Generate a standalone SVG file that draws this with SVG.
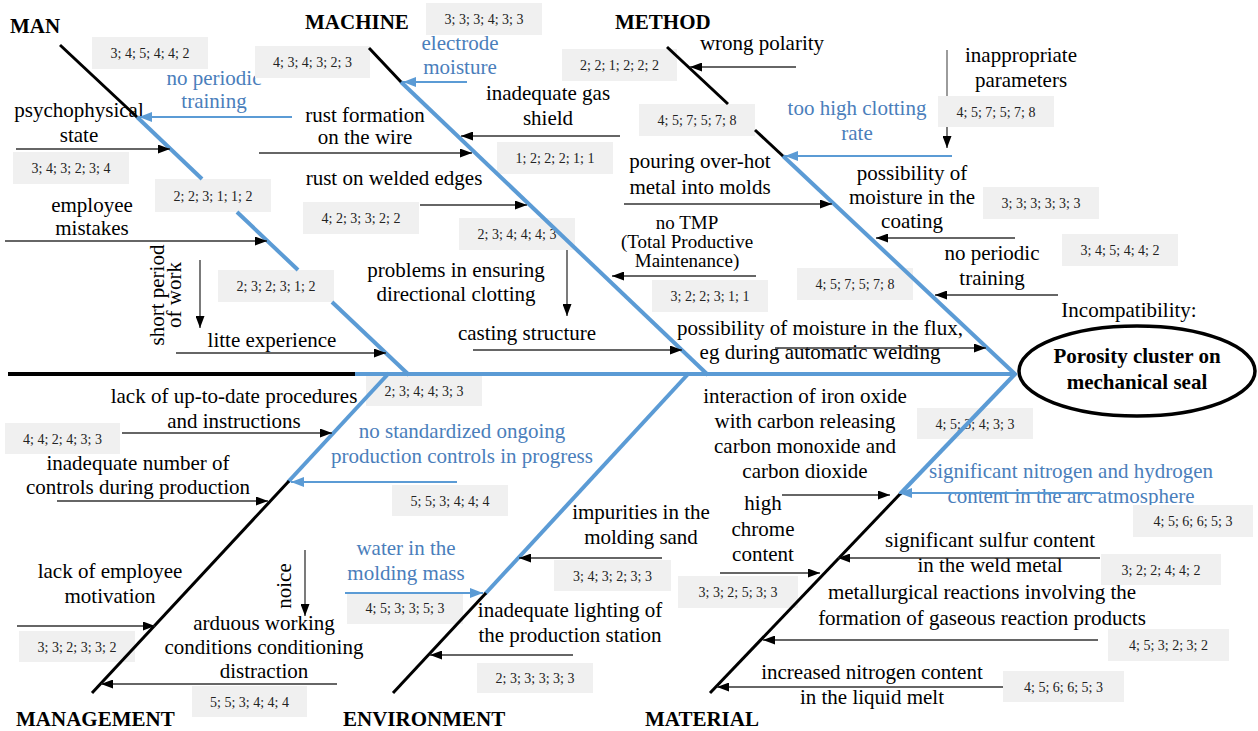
<svg xmlns="http://www.w3.org/2000/svg" width="1258" height="731" viewBox="0 0 1258 731">
<style>
.t{font-family:"Liberation Serif","Times New Roman",serif;font-size:21px;fill:#000;text-anchor:middle}
.bl{fill:#4a7ebb}
.cat{font-weight:bold;text-anchor:start}
.hd{font-weight:bold}
.sm{font-size:19px}
.n{font-family:"Liberation Serif","Times New Roman",serif;font-size:14px;fill:#222;text-anchor:middle}
.box{fill:#f0f0f0}
.bk{stroke:#000;stroke-width:3;fill:none}
.bb{stroke:#5b9bd5;stroke-width:4;fill:none}
.ar{stroke:#333;stroke-width:1.3;fill:none;marker-end:url(#ak)}
.arg{stroke:#666;stroke-width:1.3;fill:none}
.arb{stroke:#5b9bd5;stroke-width:2;fill:none;marker-end:url(#ab)}
</style>
<defs>
<marker id="ak" markerUnits="userSpaceOnUse" markerWidth="12" markerHeight="9" refX="12" refY="4.5" orient="auto"><path d="M0,0 L12,4.5 L0,9 z" fill="#000"/></marker>
<marker id="ab" markerUnits="userSpaceOnUse" markerWidth="13" markerHeight="10" refX="13" refY="5" orient="auto"><path d="M0,0 L13,5 L0,10 z" fill="#5b9bd5"/></marker>
</defs>
<rect width="1258" height="731" fill="#fff"/>

<g id="categories">
<text class="t cat" x="10" y="33">MAN</text>
<text class="t cat" x="305" y="29">MACHINE</text>
<text class="t cat" x="615" y="29">METHOD</text>
<text class="t cat" x="16" y="726">MANAGEMENT</text>
<text class="t cat" x="343" y="726">ENVIRONMENT</text>
<text class="t cat" x="645" y="726">MATERIAL</text>
</g>

<g id="head">
<ellipse cx="1137" cy="371" rx="118" ry="45" fill="#fff" stroke="#000" stroke-width="3.5"/>
<text class="t hd" x="1137" y="363">Porosity cluster on</text>
<text class="t hd" x="1137" y="389">mechanical seal</text>
<text class="t" x="1129" y="317">Incompatibility:</text>
</g>

<g id="causes">
<g id="c-man-training"><text class="t bl" x="214" y="85">no periodic</text><text class="t bl" x="214" y="108">training</text></g>
<g id="c-psycho"><text class="t" x="79" y="117">psychophysical</text><text class="t" x="79" y="142">state</text></g>
<g id="c-mistakes"><text class="t" x="92" y="212">employee</text><text class="t" x="92" y="235">mistakes</text></g>
<g id="c-short"><text class="t" transform="translate(164,295) rotate(-90)"><tspan x="0" y="0">short period</tspan><tspan x="0" y="17">of work</tspan></text></g>
<g id="c-experience"><text class="t" x="272" y="347">litte experience</text></g>

<g id="c-electrode"><text class="t bl" x="460" y="50">electrode</text><text class="t bl" x="460" y="74">moisture</text></g>
<g id="c-rustwire"><text class="t" x="365" y="122">rust formation</text><text class="t" x="365" y="144">on the wire</text></g>
<g id="c-gas"><text class="t" x="548" y="100">inadequate gas</text><text class="t" x="548" y="125">shield</text></g>
<g id="c-rustedges"><text class="t" x="394" y="185">rust on welded edges</text></g>
<g id="c-directional"><text class="t" x="456" y="277">problems in ensuring</text><text class="t" x="456" y="301">directional clotting</text></g>
<g id="c-casting"><text class="t" x="527" y="340">casting structure</text></g>
<g id="c-tmp"><text class="t sm" x="687" y="229">no TMP</text><text class="t sm" x="687" y="248">(Total Productive</text><text class="t sm" x="687" y="267">Maintenance)</text></g>
<g id="c-flux"><text class="t" x="820" y="335">possibility of moisture in the flux,</text><text class="t" x="820" y="359">eg during automatic welding</text></g>

<g id="c-polarity"><text class="t" x="762" y="50">wrong polarity</text></g>
<g id="c-params"><text class="t" x="1021" y="62">inappropriate</text><text class="t" x="1021" y="87">parameters</text></g>
<g id="c-rate"><text class="t bl" x="857" y="115">too high clotting</text><text class="t bl" x="857" y="140">rate</text></g>
<g id="c-pouring"><text class="t" x="700" y="168">pouring over-hot</text><text class="t" x="700" y="194">metal into molds</text></g>
<g id="c-coating"><text class="t" x="912" y="180">possibility of</text><text class="t" x="912" y="204">moisture in the</text><text class="t" x="912" y="228">coating</text></g>
<g id="c-method-training"><text class="t" x="992" y="260">no periodic</text><text class="t" x="992" y="285">training</text></g>

<g id="c-procedures"><text class="t" x="234" y="403">lack of up-to-date procedures</text><text class="t" x="234" y="428">and instructions</text></g>
<g id="c-controls"><text class="t" x="138" y="470">inadequate number of</text><text class="t" x="138" y="494">controls during production</text></g>
<g id="c-standard"><text class="t bl" x="462" y="438">no standardized ongoing</text><text class="t bl" x="462" y="463">production controls in progress</text></g>
<g id="c-motivation"><text class="t" x="110" y="578">lack of employee</text><text class="t" x="110" y="603">motivation</text></g>
<g id="c-noice"><text class="t" transform="translate(291,586) rotate(-90)">noice</text></g>
<g id="c-arduous"><text class="t" x="264" y="630">arduous working</text><text class="t" x="264" y="654">conditions conditioning</text><text class="t" x="264" y="678">distraction</text></g>

<g id="c-water"><text class="t bl" x="406" y="555">water in the</text><text class="t bl" x="406" y="580">molding mass</text></g>
<g id="c-impurities"><text class="t" x="641" y="519">impurities in the</text><text class="t" x="641" y="544">molding sand</text></g>
<g id="c-lighting"><text class="t" x="570" y="617">inadequate lighting of</text><text class="t" x="570" y="642">the production station</text></g>

<g id="c-ironoxide"><text class="t" x="805" y="403">interaction of iron oxide</text><text class="t" x="805" y="428">with carbon releasing</text><text class="t" x="805" y="453">carbon monoxide and</text><text class="t" x="805" y="478">carbon dioxide</text></g>
<g id="c-nitrogen-arc"><text class="t bl" x="1071" y="478">significant nitrogen and hydrogen</text><text class="t bl" x="1071" y="503">content in the arc atmosphere</text></g>
<g id="c-chrome"><text class="t" x="763" y="510">high</text><text class="t" x="763" y="536">chrome</text><text class="t" x="763" y="561">content</text></g>
<g id="c-sulfur"><text class="t" x="990" y="547">significant sulfur content</text><text class="t" x="990" y="572">in the weld metal</text></g>
<g id="c-metallurgical"><text class="t" x="982" y="599">metallurgical reactions involving the</text><text class="t" x="982" y="625">formation of gaseous reaction products</text></g>
<g id="c-nitrogen-melt"><text class="t" x="872" y="679">increased nitrogen content</text><text class="t" x="872" y="704">in the liquid melt</text></g>
</g>

<g id="scores">
<g id="s1"><rect class="box" x="92" y="37" width="116" height="32"/><text class="n" x="150" y="58">3; 4; 5; 4; 4; 2</text></g>
<g id="s2"><rect class="box" x="255" y="46" width="115" height="32"/><text class="n" x="312.5" y="67">4; 3; 4; 3; 2; 3</text></g>
<g id="s3"><rect class="box" x="426" y="3" width="116" height="32"/><text class="n" x="484" y="24">3; 3; 3; 4; 3; 3</text></g>
<g id="s4"><rect class="box" x="562" y="49" width="115" height="32"/><text class="n" x="619.5" y="70">2; 2; 1; 2; 2; 2</text></g>
<g id="s5"><rect class="box" x="639" y="104" width="116" height="32"/><text class="n" x="697" y="125">4; 5; 7; 5; 7; 8</text></g>
<g id="s6"><rect class="box" x="938" y="96" width="116" height="31"/><text class="n" x="996" y="116.5">4; 5; 7; 5; 7; 8</text></g>
<g id="s7"><rect class="box" x="13" y="152" width="116" height="32"/><text class="n" x="71" y="173">3; 4; 3; 2; 3; 4</text></g>
<g id="s8"><rect class="box" x="155" y="179" width="116" height="33"/><text class="n" x="213" y="200.5">2; 2; 3; 1; 1; 2</text></g>
<g id="s9"><rect class="box" x="303" y="202" width="116" height="32"/><text class="n" x="361" y="223">4; 2; 3; 3; 2; 2</text></g>
<g id="s10"><rect class="box" x="497" y="142" width="116" height="32"/><text class="n" x="555" y="163">1; 2; 2; 2; 1; 1</text></g>
<g id="s11"><rect class="box" x="459" y="218" width="116" height="32"/><text class="n" x="517" y="239">2; 3; 4; 4; 4; 3</text></g>
<g id="s12"><rect class="box" x="983" y="187" width="116" height="32"/><text class="n" x="1041" y="208">3; 3; 3; 3; 3; 3</text></g>
<g id="s13"><rect class="box" x="1062" y="234" width="116" height="32"/><text class="n" x="1120" y="255">3; 4; 5; 4; 4; 2</text></g>
<g id="s14"><rect class="box" x="797" y="268" width="116" height="32"/><text class="n" x="855" y="289">4; 5; 7; 5; 7; 8</text></g>
<g id="s15"><rect class="box" x="652" y="280" width="116" height="32"/><text class="n" x="710" y="301">3; 2; 2; 3; 1; 1</text></g>
<g id="s16"><rect class="box" x="218" y="270" width="116" height="32"/><text class="n" x="276" y="291">2; 3; 2; 3; 1; 2</text></g>
<g id="s17"><rect class="box" x="366" y="376" width="116" height="30"/><text class="n" x="424" y="396">2; 3; 4; 4; 3; 3</text></g>
<g id="s18"><rect class="box" x="5" y="423" width="115" height="31"/><text class="n" x="62.5" y="443.5">4; 4; 2; 4; 3; 3</text></g>
<g id="s19"><rect class="box" x="392" y="485" width="116" height="31"/><text class="n" x="450" y="505.5">5; 5; 3; 4; 4; 4</text></g>
<g id="s20"><rect class="box" x="917" y="408" width="116" height="31"/><text class="n" x="975" y="428.5">4; 5; 3; 4; 3; 3</text></g>
<g id="s21"><rect class="box" x="1133" y="505" width="120" height="32"/><text class="n" x="1193" y="526">4; 5; 6; 6; 5; 3</text></g>
<g id="s22"><rect class="box" x="1101" y="554" width="120" height="31"/><text class="n" x="1161" y="574.5">3; 2; 2; 4; 4; 2</text></g>
<g id="s23"><rect class="box" x="1108" y="629" width="121" height="32"/><text class="n" x="1168.5" y="650">4; 5; 3; 2; 3; 2</text></g>
<g id="s24"><rect class="box" x="1003" y="671" width="121" height="31"/><text class="n" x="1063.5" y="691.5">4; 5; 6; 6; 5; 3</text></g>
<g id="s25"><rect class="box" x="678" y="576" width="120" height="32"/><text class="n" x="738" y="597">3; 3; 2; 5; 3; 3</text></g>
<g id="s26"><rect class="box" x="554" y="560" width="117" height="31"/><text class="n" x="612.5" y="580.5">3; 4; 3; 2; 3; 3</text></g>
<g id="s27"><rect class="box" x="477" y="663" width="116" height="30"/><text class="n" x="535" y="683">2; 3; 3; 3; 3; 3</text></g>
<g id="s28"><rect class="box" x="347" y="592" width="116" height="32"/><text class="n" x="405" y="613">4; 5; 3; 3; 5; 3</text></g>
<g id="s29"><rect class="box" x="19" y="631" width="116" height="31"/><text class="n" x="77" y="651.5">3; 3; 2; 3; 3; 2</text></g>
<g id="s30"><rect class="box" x="192" y="686" width="115" height="31"/><text class="n" x="249.5" y="706.5">5; 5; 3; 4; 4; 4</text></g>
</g>

<g id="connectors">
<line x1="8" y1="374" x2="356" y2="374" stroke="#000" stroke-width="4"/>
<line x1="355" y1="374" x2="1016" y2="374" class="bb"/>
<line class="bk" x1="60" y1="45" x2="138" y2="118"/>
<line class="bb" x1="137" y1="117" x2="202" y2="179"/>
<line class="bb" x1="237" y1="212" x2="298" y2="270"/>
<line class="bb" x1="332" y1="302" x2="409" y2="375"/>
<line class="bk" x1="369" y1="48" x2="402" y2="83"/>
<line class="bb" x1="401" y1="82" x2="708" y2="375"/>
<line class="bk" x1="667" y1="47" x2="728" y2="104"/>
<line class="bk" x1="755" y1="130" x2="784" y2="157"/>
<line class="bb" x1="783" y1="156" x2="1016" y2="375"/>
<line class="bb" x1="389" y1="373" x2="288" y2="482"/>
<line class="bk" x1="289" y1="481" x2="92" y2="693"/>
<line class="bb" x1="689" y1="373" x2="485" y2="594"/>
<line class="bk" x1="486" y1="593" x2="393" y2="693"/>
<line class="bb" x1="1016" y1="373" x2="900" y2="494"/>
<line class="bk" x1="901" y1="493" x2="710" y2="693"/>

<line class="arb" x1="292" y1="117" x2="139" y2="117"/>
<line class="ar" x1="16" y1="149" x2="170" y2="149"/>
<line class="ar" x1="5" y1="241" x2="267" y2="241"/>
<line class="ar" x1="200" y1="260" x2="200" y2="328"/>
<line class="ar" x1="176" y1="353" x2="386" y2="353"/>
<line class="arb" x1="467" y1="82" x2="403" y2="82"/>
<line class="ar" x1="259" y1="153" x2="472" y2="153"/>
<line class="ar" x1="620" y1="136" x2="461" y2="136"/>
<line class="ar" x1="420" y1="205" x2="527" y2="205"/>
<line class="ar" x1="567" y1="250" x2="567" y2="316"/>
<line class="ar" x1="473" y1="350" x2="682" y2="350"/>
<line class="ar" x1="756" y1="276" x2="612" y2="276"/>
<line class="ar" x1="775" y1="348" x2="986" y2="348"/>
<line class="ar" x1="796" y1="67" x2="690" y2="67"/>
<line class="arg" x1="947" y1="50" x2="947" y2="96"/>
<line class="ar" x1="947" y1="127" x2="947" y2="148"/>
<line class="arb" x1="952" y1="156" x2="785" y2="156"/>
<line class="ar" x1="624" y1="204" x2="832" y2="204"/>
<line class="ar" x1="1015" y1="238" x2="876" y2="238"/>
<line class="ar" x1="1058" y1="295" x2="935" y2="295"/>
<line class="ar" x1="122" y1="433" x2="332" y2="433"/>
<line class="ar" x1="57" y1="501" x2="268" y2="501"/>
<line class="arb" x1="457" y1="482" x2="291" y2="482"/>
<line class="ar" x1="17" y1="626" x2="155" y2="626"/>
<line class="ar" x1="305" y1="550" x2="305" y2="616"/>
<line class="ar" x1="337" y1="684" x2="101" y2="684"/>
<line class="arb" x1="345" y1="593" x2="483" y2="593"/>
<line class="ar" x1="662" y1="558" x2="519" y2="558"/>
<line class="ar" x1="573" y1="655" x2="430" y2="655"/>
<line class="ar" x1="782" y1="495" x2="890" y2="495"/>
<line class="arb" x1="1100" y1="493" x2="899" y2="493"/>
<line class="ar" x1="720" y1="573" x2="820" y2="573"/>
<line class="ar" x1="1100" y1="558" x2="838" y2="558"/>
<line class="ar" x1="1098" y1="640" x2="763" y2="640"/>
<line class="ar" x1="1003" y1="687" x2="717" y2="687"/>
</g>
</svg>
